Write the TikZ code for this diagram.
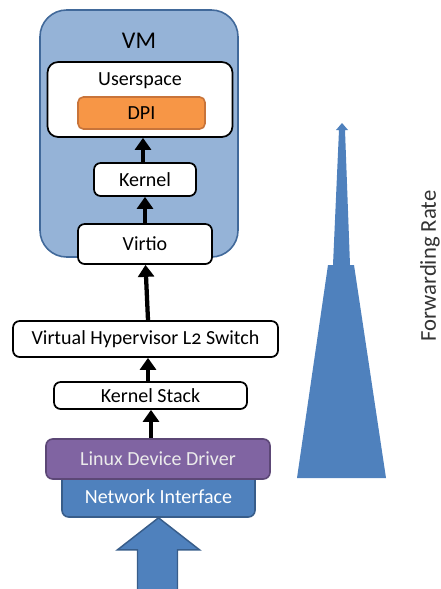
\documentclass[tikz,border=0pt]{standalone}
\usepackage{fontspec}
\setmainfont{Carlito}
\usetikzlibrary{arrows.meta,calc}
\definecolor{vmfill}{HTML}{95B3D7}
\definecolor{vmline}{HTML}{41699A}
\definecolor{dpifill}{HTML}{F79646}
\definecolor{dpiline}{HTML}{C8743A}
\definecolor{lddfill}{HTML}{8064A2}
\definecolor{lddline}{HTML}{5C4776}
\definecolor{nifill}{HTML}{4F81BD}
\definecolor{niline}{HTML}{385D8A}
\tikzset{
  wbox/.style={draw=black, line width=1.3pt, fill=white, rounded corners=5pt, inner sep=0pt, font=\fontsize{15}{17}\selectfont},
  arr/.style={line width=3.2pt, -{Triangle[width=12pt,length=9pt]}},
  lbl/.style={inner sep=0pt, font=\fontsize{15}{17}\selectfont},
}
\begin{document}
\begin{tikzpicture}[x=0.75pt,y=-0.75pt]
\useasboundingbox (0,0) rectangle (440,589);
% forwarding rate shape
\fill[nifill] (297,478) -- (328,265) -- (333,265) -- (339,130) -- (336,130) -- (342,123) -- (348,130) -- (345,130) -- (350,265) -- (354,265) -- (386,478) -- cycle;
\node[lbl, rotate=90, text=black!80, font=\fontsize{17}{19}\selectfont] (fr) at (430,266) {Forwarding Rate};
% VM
\node[draw=vmline, line width=1.2pt, fill=vmfill, rounded corners=20pt, minimum width={198*0.75pt}, minimum height={247*0.75pt}, inner sep=0pt] (vm) at (139,133.5) {};
\node[lbl, font=\fontsize{18}{20}\selectfont] (vmlabel) at (139,41) {VM};
\node[wbox, rounded corners=8pt, minimum width={185*0.75pt}, minimum height={75*0.75pt}] (user) at (140,99.5) {};
\node[lbl] (userlabel) at (140,81) {Userspace};
\node[draw=dpiline, line width=1.2pt, fill=dpifill, rounded corners=4pt, inner sep=0pt, font=\fontsize{15}{17}\selectfont, minimum width={127*0.75pt}, minimum height={32*0.75pt}] (dpi) at (141.5,113) {DPI};
\node[wbox, minimum width={102*0.75pt}, minimum height={33*0.75pt}] (kernel) at (145,179.5) {Kernel};
\node[wbox, minimum width={134*0.75pt}, minimum height={40*0.75pt}] (virtio) at (145,244) {Virtio};
\node[wbox, minimum width={265*0.75pt}, minimum height={36*0.75pt}] (switch) at (145.5,339) {Virtual Hypervisor L{\addfontfeature{Numbers=OldStyle}2} Switch};
\node[wbox, minimum width={193*0.75pt}, minimum height={27*0.75pt}] (kstack) at (150.5,395.5) {Kernel Stack};
\node[draw=niline, line width=1.2pt, fill=nifill, rounded corners=5pt, inner sep=0pt, minimum width={193*0.75pt}, minimum height={47*0.75pt}] (ni) at (158.5,493.5) {};
\node[lbl, text=white] (nilabel) at (158.5,497) {Network Interface};
\node[draw=lddline, line width=1.2pt, fill=lddfill, rounded corners=5pt, inner sep=0pt, text=white!92!black, font=\fontsize{15}{17}\selectfont, minimum width={224*0.75pt}, minimum height={40*0.75pt}] (ldd) at (158,459) {Linux Device Driver};
% big input arrow
\coordinate (tip) at (ni.south);
\draw[draw=niline, line width=1.1pt, fill=nifill] ($(tip)+(-21,32)$) -- ++(-20,0) -- (tip) -- ++(41,32) -- ++(-22,0) -- ++(0,45) -- ++(-40,0) -- cycle;
% connectors
\draw[arr] ($(kernel.north)+(-2,0)$) -- ($(kernel.north |- user.south)+(-2,0)$);
\draw[arr] (virtio.north) -- (virtio.north |- kernel.south);
\draw[arr] ($(switch.north)+(2.5,0)$) -- ($(virtio.south)+(0.5,0)$);
\draw[arr] ($(kstack.north)+(-2.5,0)$) -- ($(kstack.north |- switch.south)+(-2.5,0)$);
\draw[arr] ($(ldd.north)+(-7,0)$) -- ($(ldd.north |- kstack.south)+(-7,0)$);
\end{tikzpicture}
\end{document}
